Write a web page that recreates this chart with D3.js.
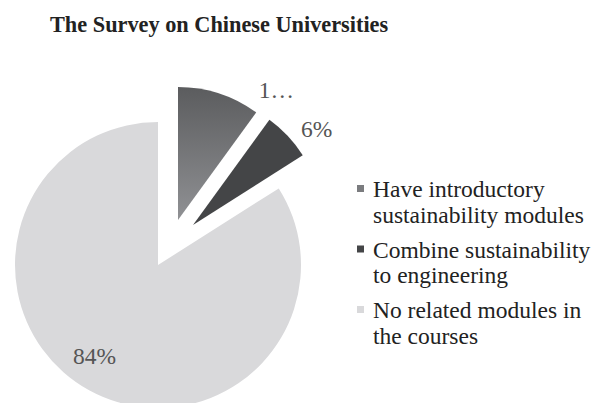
<!DOCTYPE html>
<html>
<head>
<meta charset="utf-8">
<script src="https://cdn.jsdelivr.net/npm/d3@7"></script>
<style>
  body { margin: 0; background: #fff; }
  svg text { font-family: "Liberation Serif", "Times New Roman", serif; }
</style>
</head>
<body>
<div id="chart"></div>
<script>
// Data
const categories = [
  "Have introductory sustainability modules",
  "Combine sustainability to engineering",
  "No related modules in the courses"
];
const legendLines = [
  ["Have introductory", "sustainability modules"],
  ["Combine sustainability", "to engineering"],
  ["No related modules in", "the courses"]
];
const values = [10, 6, 84];
const valueLabels = ["1…", "6%", "84%"];

(function() {
  const W = 600, H = 403;
  const cx = 158, cy = 265;

  // per-slice look (Excel exploded pie: small slices pulled out)
  const fills = ["url(#g1)", "#444547", "#d9d9db"];
  const radii = [133, 130, 143];
  const shift = [[20, -45], [35, -40], [0, 0]];
  const labelAt = [{ t: 1.03, r: 163 }, { t: 0.74, r: 157 }, { t: 0.52, r: 111 }];

  const svg = d3.select("#chart").append("svg")
    .attr("width", W).attr("height", H);

  const defs = svg.append("defs");
  const grad = defs.append("linearGradient")
    .attr("id", "g1").attr("x1", 0).attr("y1", 0).attr("x2", 0).attr("y2", 1);
  grad.append("stop").attr("offset", "0%").attr("stop-color", "#5b5c5e");
  grad.append("stop").attr("offset", "100%").attr("stop-color", "#909194");

  // Title
  svg.append("text")
    .attr("x", 50).attr("y", 32)
    .attr("font-size", 22.3).attr("font-weight", "bold")
    .attr("fill", "#222")
    .text("The Survey on Chinese Universities");

  const pie = d3.pie().sort(null).value(d => d);
  const arcs = pie(values);

  const g = svg.append("g").attr("transform", `translate(${cx},${cy})`);

  g.selectAll(".slice").data(arcs).enter()
    .append("path")
    .attr("class", "slice")
    .attr("transform", (d, i) => `translate(${shift[i][0]},${shift[i][1]})`)
    .attr("d", (d, i) => d3.arc().innerRadius(0).outerRadius(radii[i])(d))
    .attr("fill", (d, i) => fills[i]);

  // Data labels
  g.selectAll(".lbl").data(arcs).enter()
    .append("text")
    .attr("class", "lbl")
    .attr("transform", (d, i) => {
      const a = d.startAngle + (d.endAngle - d.startAngle) * labelAt[i].t;
      const x = shift[i][0] + Math.sin(a) * labelAt[i].r;
      const y = shift[i][1] - Math.cos(a) * labelAt[i].r;
      return `translate(${x},${y})`;
    })
    .attr("text-anchor", "middle")
    .attr("dy", "0.35em")
    .attr("font-size", 23.5)
    .attr("fill", "#555")
    .text((d, i) => valueLabels[i]);

  // Legend
  const legend = svg.append("g").attr("transform", "translate(357,197)");
  const item = legend.selectAll(".item").data(categories).enter()
    .append("g")
    .attr("class", "item")
    .attr("transform", (d, i) => `translate(0,${i * 60.5})`);

  item.append("rect")
    .attr("x", 0).attr("y", -12)
    .attr("width", 7).attr("height", 7)
    .attr("fill", (d, i) => i === 0 ? "#7b7c7f" : fills[i]);

  item.append("text")
    .attr("x", 16)
    .attr("font-size", 23.5)
    .attr("fill", "#222")
    .selectAll("tspan")
    .data((d, i) => legendLines[i])
    .enter().append("tspan")
    .attr("x", 16)
    .attr("dy", (d, j) => j === 0 ? 0 : 25.5)
    .text(d => d);
})();
</script>
</body>
</html>
